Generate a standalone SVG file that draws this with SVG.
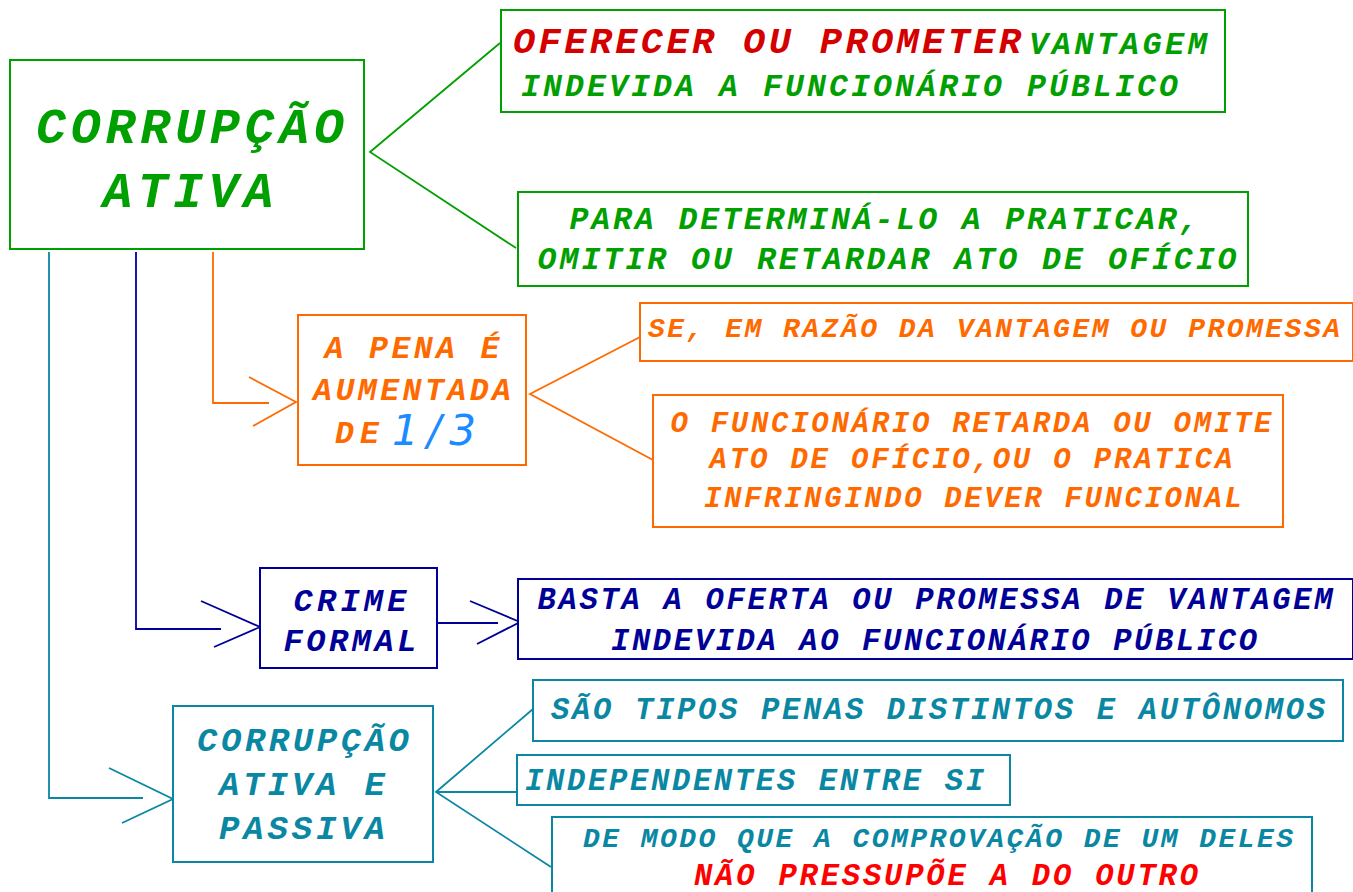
<svg xmlns="http://www.w3.org/2000/svg" width="1353" height="892" viewBox="0 0 1353 892">
<style>
text{font-family:"Liberation Mono","Courier New",monospace;font-weight:bold;font-style:italic}
.box{fill:#fff;stroke-width:2}
.ln{fill:none;stroke-width:1.8}
.g{fill:#00a000}.gs{stroke:#00a000}
.o{fill:#ff6a00}.os{stroke:#ff6a00}
.n{fill:#000099}.ns{stroke:#000099}
.t{fill:#0a87a3}.ts{stroke:#0a87a3}
.dr{fill:#d40000}.r{fill:#ff0000}
.m{text-anchor:middle}
</style>
<rect width="1353" height="892" fill="#fff"/>
<g id="connectors">
<polyline class="ln gs" points="500,43 370,152 516,248"/>
<polyline class="ln os" points="213,252 213,403 269,403"/>
<polyline class="ln os" points="249,377 296,402 253,426"/>
<polyline class="ln os" points="640,337 530,394 653,460"/>
<polyline class="ln ns" points="136,252 136,629 221,629"/>
<polyline class="ln ns" points="201,601 260,627 214,647"/>
<line class="ln ns" x1="437" y1="623" x2="498" y2="623"/>
<polyline class="ln ns" points="470,601 520,622 477,644"/>
<polyline class="ln ts" points="49,252 49,798 143,798"/>
<polyline class="ln ts" points="109,768 173,799 122,823"/>
<polyline class="ln ts" points="533,709 436,792 551,867"/>
<line class="ln ts" x1="436" y1="792" x2="518" y2="792"/>
</g>
<g id="corrupcao-ativa">
<rect class="box gs" x="10" y="60" width="354" height="189"/>
<text class="g m" x="190" y="143" font-size="50" textLength="308">CORRUPÇÃO</text>
<text class="g m" x="188" y="207" font-size="50" textLength="171">ATIVA</text>
</g>
<g id="oferecer">
<rect class="box gs" x="501" y="10" width="724" height="102"/>
<text class="dr" x="513" y="53" font-size="37" textLength="508">OFERECER OU PROMETER</text>
<text class="g" x="1029" y="54" font-size="32" textLength="178">VANTAGEM</text>
<text class="g" x="521" y="96" font-size="31.5" textLength="657">INDEVIDA A FUNCIONÁRIO PÚBLICO</text>
</g>
<g id="para-determinar">
<rect class="box gs" x="518" y="192" width="730" height="94"/>
<text class="g m" x="884" y="229" font-size="31.5" textLength="629">PARA DETERMINÁ-LO A PRATICAR,</text>
<text class="g m" x="887" y="269" font-size="31.5" textLength="699">OMITIR OU RETARDAR ATO DE OFÍCIO</text>
</g>
<g id="pena-aumentada">
<rect class="box os" x="298" y="315" width="228" height="150"/>
<text class="o m" x="412" y="358" font-size="31.5" textLength="175">A PENA É</text>
<text class="o m" x="412" y="400" font-size="31.5" textLength="198">AUMENTADA</text>
<text class="o" x="335" y="443" font-size="31.5" textLength="44">DE</text>
<text x="392" y="445" font-size="42" textLength="84" style="font-family:'DejaVu Sans',Verdana,sans-serif;font-weight:normal;fill:#1a8cff">1/3</text>
</g>
<g id="se-em-razao">
<rect class="box os" x="640" y="303" width="713" height="58"/>
<text class="o" x="648" y="337" font-size="28" textLength="692">SE, EM RAZÃO DA VANTAGEM OU PROMESSA</text>
</g>
<g id="funcionario-retarda">
<rect class="box os" x="653" y="395" width="630" height="132"/>
<text class="o m" x="971" y="432" font-size="29" textLength="601">O FUNCIONÁRIO RETARDA OU OMITE</text>
<text class="o m" x="971" y="468" font-size="29" textLength="523">ATO DE OFÍCIO,OU O PRATICA</text>
<text class="o m" x="973" y="507" font-size="29" textLength="538">INFRINGINDO DEVER FUNCIONAL</text>
</g>
<g id="crime-formal">
<rect class="box ns" x="260" y="568" width="177" height="100"/>
<text class="n m" x="350" y="611" font-size="32" textLength="113">CRIME</text>
<text class="n m" x="350" y="651" font-size="32" textLength="133">FORMAL</text>
</g>
<g id="basta">
<rect class="box ns" x="518" y="579" width="835" height="80"/>
<text class="n m" x="935" y="609" font-size="30.5" textLength="795">BASTA A OFERTA OU PROMESSA DE VANTAGEM</text>
<text class="n m" x="934" y="650" font-size="30.5" textLength="646">INDEVIDA AO FUNCIONÁRIO PÚBLICO</text>
</g>
<g id="corrupcao-ativa-passiva">
<rect class="box ts" x="173" y="706" width="260" height="156"/>
<text class="t m" x="303" y="751" font-size="34" textLength="212">CORRUPÇÃO</text>
<text class="t m" x="302" y="795" font-size="34" textLength="166">ATIVA E</text>
<text class="t m" x="302" y="839" font-size="34" textLength="166">PASSIVA</text>
</g>
<g id="tipos-penas">
<rect class="box ts" x="533" y="680" width="810" height="61"/>
<text class="t m" x="938" y="719" font-size="30.5" textLength="774">SÃO TIPOS PENAS DISTINTOS E AUTÔNOMOS</text>
</g>
<g id="independentes">
<rect class="box ts" x="517" y="755" width="493" height="50"/>
<text class="t" x="525" y="790" font-size="30.5" textLength="459">INDEPENDENTES ENTRE SI</text>
</g>
<g id="de-modo">
<rect class="box ts" x="552" y="817" width="760" height="90"/>
<text class="t m" x="938" y="847" font-size="28" textLength="710">DE MODO QUE A COMPROVAÇÃO DE UM DELES</text>
<text class="r m" x="946" y="885" font-size="30.5" textLength="504">NÃO PRESSUPÕE A DO OUTRO</text>
</g>
</svg>
